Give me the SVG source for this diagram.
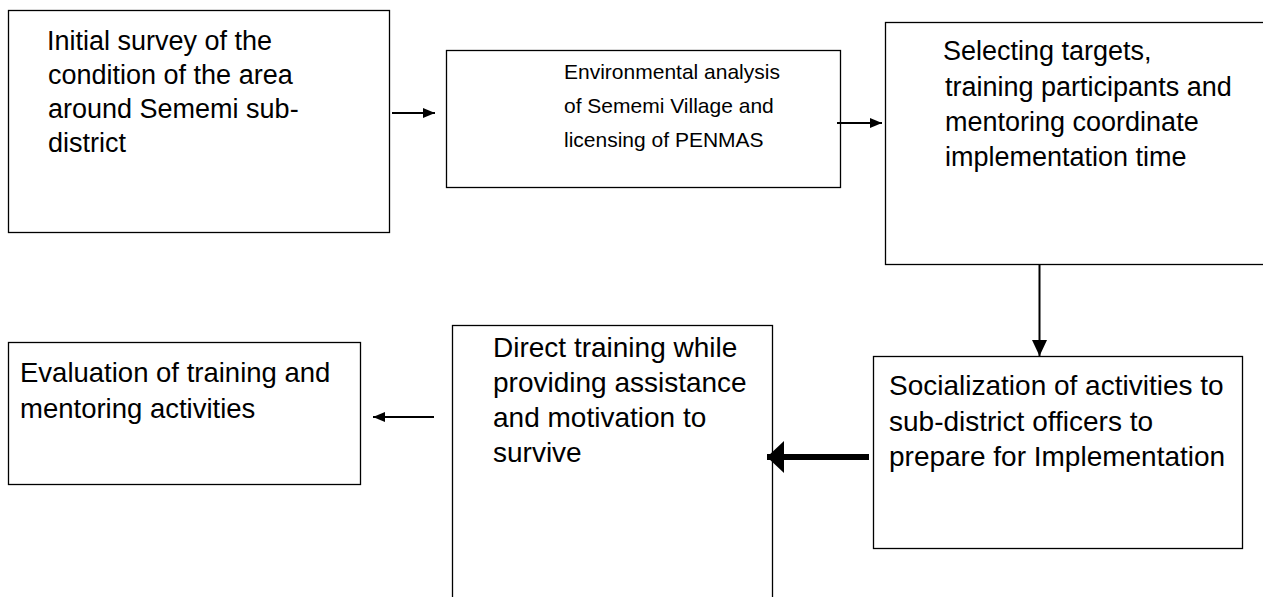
<svg xmlns="http://www.w3.org/2000/svg" width="1263" height="597" viewBox="0 0 1263 597">
<style>
.box{fill:#fff;stroke:#000;stroke-width:1.3}
.t{font-family:"Liberation Sans",Arial,sans-serif;fill:#000}
.c{stroke:#000;fill:none}
</style>
<defs>
<marker id="thin" markerUnits="userSpaceOnUse" markerWidth="12" markerHeight="10" viewBox="0 0 12 10" refX="12" refY="5" orient="auto"><path d="M0,0 L12,5 L0,10 z" fill="#000"/></marker>
<marker id="mid" markerUnits="userSpaceOnUse" markerWidth="16" markerHeight="15" viewBox="0 0 16 15" refX="16" refY="7.5" orient="auto"><path d="M0,0 L16,7.5 L0,15 z" fill="#000"/></marker>
<marker id="thick" markerUnits="userSpaceOnUse" markerWidth="17" markerHeight="32" viewBox="0 0 17 32" refX="17" refY="16" orient="auto"><path d="M0,0 L17,16 L0,32 z" fill="#000"/></marker>
</defs>
<rect width="1263" height="597" fill="#fff"/>
<g id="n1">
<rect class="box" x="8.5" y="10.5" width="381" height="222"/>
<text class="t" font-size="27"><tspan x="47" y="50">Initial survey of the</tspan><tspan x="48" y="84">condition of the area</tspan><tspan x="48" y="118">around Sememi sub-</tspan><tspan x="48" y="152">district</tspan></text>
</g>
<g id="n2">
<rect class="box" x="446.5" y="50.5" width="394" height="137"/>
<text class="t" font-size="21"><tspan x="564" y="79">Environmental analysis</tspan><tspan x="564" y="113">of Sememi Village and</tspan><tspan x="564" y="147">licensing of PENMAS</tspan></text>
</g>
<g id="n3">
<rect class="box" x="885.5" y="22.5" width="400" height="242"/>
<text class="t" font-size="27"><tspan x="943" y="60">Selecting targets,</tspan><tspan x="945" y="96">training participants and</tspan><tspan x="945" y="131">mentoring coordinate</tspan><tspan x="945" y="166">implementation time</tspan></text>
</g>
<g id="n4">
<rect class="box" x="873.5" y="356.5" width="369" height="192"/>
<text class="t" font-size="28"><tspan x="889" y="395">Socialization of activities to</tspan><tspan x="889" y="431">sub-district officers to</tspan><tspan x="889" y="466">prepare for Implementation</tspan></text>
</g>
<g id="n5">
<rect class="box" x="452.5" y="325.5" width="320" height="300"/>
<text class="t" font-size="28"><tspan x="493" y="357">Direct training while</tspan><tspan x="493" y="392">providing assistance</tspan><tspan x="493" y="427">and motivation to</tspan><tspan x="493" y="462">survive</tspan></text>
</g>
<g id="n6">
<rect class="box" x="8.5" y="342.5" width="352" height="142"/>
<text class="t" font-size="27.5"><tspan x="20" y="382">Evaluation of training and</tspan><tspan x="20" y="418">mentoring activities</tspan></text>
</g>
<g id="connectors">
<line class="c" x1="392" y1="113" x2="435" y2="113" stroke-width="2" marker-end="url(#thin)"/>
<line class="c" x1="837" y1="123" x2="882" y2="123" stroke-width="2" marker-end="url(#thin)"/>
<line class="c" x1="1039.5" y1="265" x2="1039.5" y2="356" stroke-width="2" marker-end="url(#mid)"/>
<line class="c" x1="869" y1="457" x2="767" y2="457" stroke-width="6" marker-end="url(#thick)"/>
<line class="c" x1="434" y1="417" x2="373" y2="417" stroke-width="2" marker-end="url(#thin)"/>
</g>
</svg>
